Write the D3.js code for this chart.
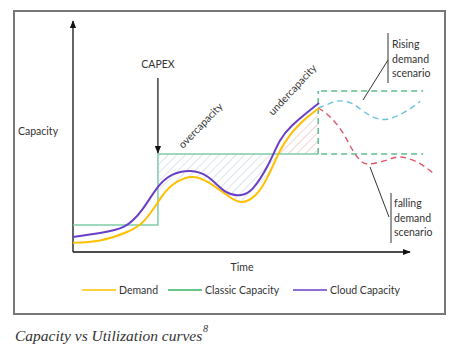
<!DOCTYPE html>
<html>
<head>
<meta charset="utf-8">
<script src="https://cdn.jsdelivr.net/npm/d3@7"></script>
<style>
  body { margin: 0; background: #fff; }
  svg text { font-family: Lato, "Open Sans", sans-serif; fill: #333; }
</style>
</head>
<body>
<svg width="466" height="352"></svg>
<script>
// time (x) and level (y) readings, both in arbitrary chart units
const demandT = [0, 9, 18, 24, 29, 33, 39, 45, 51, 56, 61, 65, 69, 73, 77, 82];
const demandV = [4, 5, 8.7, 14, 23, 29, 32.6, 30.4, 25, 21.7, 25, 33, 44, 52, 57.4, 62.6];
const cloudT = [0, 9, 17, 23, 28, 33, 39, 45, 51, 56, 60, 65, 69, 73, 77, 82];
const cloudV = [6.5, 8.3, 11, 18.3, 27.8, 33.5, 35.2, 32.6, 26.1, 24.8, 27.8, 37.8, 48.5, 55, 59.6, 64.8];
const classicT = [0, 28.3, 81.7];
const classicV = [11.7, 42.6, 42.6];
const futureEnd = 116.7;
const futureLevels = [70, 42.6];
const riseT = [81.7, 86, 89, 93, 97, 102, 107, 112, 115.7];
const riseV = [62.6, 64.8, 65.7, 64.5, 61, 57.8, 58.6, 62, 65.5];
const fallT = [81.7, 85.7, 90, 93.3, 96, 99, 104.7, 109, 114.7, 120];
const fallV = [62.6, 58.7, 51.7, 44, 39.5, 38.3, 40, 41.3, 39.1, 34.3];
const legendNames = ["Demand", "Classic Capacity", "Cloud Capacity"];
const legendColors = ["#ffc000", "#33b560", "#6a3fc8"];

let svg = d3.select("svg");

let x = d3.scaleLinear().domain([0, 112.3]).range([73, 410]);
let y = d3.scaleLinear().domain([0, 100]).range([252, 22]);

const zip = (ts, vs) => ts.map((t, i) => [t, vs[i]]);
let line = d3.line().x(d => x(d[0])).y(d => y(d[1])).curve(d3.curveNatural);

let defs = svg.append("defs");

// arrow heads
defs.append("marker")
  .attr("id", "arrow")
  .attr("viewBox", "0 0 10 10")
  .attr("refX", 9).attr("refY", 5)
  .attr("markerWidth", 8).attr("markerHeight", 8)
  .attr("markerUnits", "userSpaceOnUse")
  .attr("orient", "auto")
  .append("path").attr("d", "M0,1L10,5L0,9Z").attr("fill", "#111");

// hatch patterns
function hatch(id, color) {
  let p = defs.append("pattern")
    .attr("id", id)
    .attr("patternUnits", "userSpaceOnUse")
    .attr("width", 6).attr("height", 6)
    .attr("patternTransform", "rotate(45)");
  p.append("line")
    .attr("x1", 0).attr("y1", 0).attr("x2", 0).attr("y2", 6)
    .attr("stroke", color).attr("stroke-width", 1);
}
hatch("hatch-over", "#b9cdd8");
hatch("hatch-under", "#e3a9ad");

let capLevel = classicV[2];

defs.append("clipPath").attr("id", "clip-over")
  .append("rect")
  .attr("x", x(classicT[1])).attr("y", y(capLevel))
  .attr("width", x(classicT[2]) - x(classicT[1]))
  .attr("height", y(0) - y(capLevel));
defs.append("clipPath").attr("id", "clip-under")
  .append("rect")
  .attr("x", x(classicT[1])).attr("y", y(100))
  .attr("width", x(classicT[2]) - x(classicT[1]))
  .attr("height", y(capLevel) - y(100));

// outer frame
svg.append("rect")
  .attr("x", 14).attr("y", 11)
  .attr("width", 431).attr("height", 303)
  .attr("fill", "none").attr("stroke", "#777").attr("stroke-width", 2);

// gap area between capacity and demand
let gap = d3.area()
  .x(d => x(d[0]))
  .y0(y(capLevel))
  .y1(d => y(d[1]))
  .curve(d3.curveNatural);

svg.append("path")
  .attr("d", gap(zip(demandT, demandV)))
  .attr("fill", "url(#hatch-over)")
  .attr("clip-path", "url(#clip-over)");
svg.append("path")
  .attr("d", gap(zip(demandT, demandV)))
  .attr("fill", "url(#hatch-under)")
  .attr("clip-path", "url(#clip-under)");

// axes
svg.append("line")
  .attr("x1", x(0)).attr("y1", y(0)).attr("x2", x(0)).attr("y2", y(100) - 1)
  .attr("stroke", "#111").attr("stroke-width", 1.3)
  .attr("marker-end", "url(#arrow)");
svg.append("line")
  .attr("x1", x(0)).attr("y1", y(0)).attr("x2", x(112.3)).attr("y2", y(0))
  .attr("stroke", "#111").attr("stroke-width", 1.3)
  .attr("marker-end", "url(#arrow)");

// classic capacity step
svg.append("path")
  .attr("d", d3.line().x(d => x(d[0])).y(d => y(d[1]))([
    [classicT[0], classicV[0]], [classicT[1], classicV[0]],
    [classicT[1], classicV[1]], [classicT[2], classicV[2]]
  ]))
  .attr("fill", "none").attr("stroke", "#7fcca8").attr("stroke-width", 1.5);

// planned capacity (dashed)
let dash = svg.append("g")
  .attr("stroke", "#5dbf8a").attr("stroke-width", 1.5)
  .attr("stroke-dasharray", "6,4").attr("fill", "none");
dash.append("line")
  .attr("x1", x(classicT[2])).attr("x2", x(classicT[2]))
  .attr("y1", y(capLevel)).attr("y2", y(futureLevels[0]));
futureLevels.forEach(function(v) {
  dash.append("line")
    .attr("x1", x(classicT[2]) + 3).attr("x2", x(futureEnd))
    .attr("y1", y(v)).attr("y2", y(v));
});

// scenarios
svg.append("path")
  .attr("d", line(zip(riseT, riseV)))
  .attr("fill", "none").attr("stroke", "#6cc3dc").attr("stroke-width", 1.4)
  .attr("stroke-dasharray", "6,4");
svg.append("path")
  .attr("d", line(zip(fallT, fallV)))
  .attr("fill", "none").attr("stroke", "#e0566a").attr("stroke-width", 1.4)
  .attr("stroke-dasharray", "6,4");

// demand and cloud curves
svg.append("path")
  .attr("d", line(zip(demandT, demandV)))
  .attr("fill", "none").attr("stroke", legendColors[0]).attr("stroke-width", 2);
svg.append("path")
  .attr("d", line(zip(cloudT, cloudV)))
  .attr("fill", "none").attr("stroke", legendColors[2]).attr("stroke-width", 2);

// CAPEX arrow
svg.append("line")
  .attr("x1", x(classicT[1])).attr("x2", x(classicT[1]))
  .attr("y1", 78).attr("y2", y(capLevel) - 1)
  .attr("stroke", "#111").attr("stroke-width", 1.2)
  .attr("marker-end", "url(#arrow)");
svg.append("text")
  .attr("x", x(classicT[1])).attr("y", 68)
  .attr("text-anchor", "middle").attr("font-size", "10.5px")
  .text("CAPEX");

// gap labels
svg.append("text")
  .attr("transform", "translate(183,149) rotate(-46)")
  .attr("font-size", "10.5px")
  .text("overcapacity");
svg.append("text")
  .attr("transform", "translate(273,116) rotate(-47)")
  .attr("font-size", "10.5px")
  .text("undercapacity");

// axis titles
svg.append("text")
  .attr("x", 18).attr("y", 135)
  .attr("font-size", "10.5px")
  .text("Capacity");
svg.append("text")
  .attr("x", 242).attr("y", 271)
  .attr("text-anchor", "middle").attr("font-size", "10.5px")
  .text("Time");

// scenario callouts
function callout(lines, tx, ty0, barX, barY0, barY1, p0, p1) {
  let g = svg.append("g");
  g.append("line")
    .attr("x1", barX).attr("x2", barX).attr("y1", barY0).attr("y2", barY1)
    .attr("stroke", "#333").attr("stroke-width", 1);
  g.append("line")
    .attr("x1", p0[0]).attr("y1", p0[1]).attr("x2", p1[0]).attr("y2", p1[1])
    .attr("stroke", "#333").attr("stroke-width", 1);
  lines.forEach(function(s, i) {
    g.append("text")
      .attr("x", tx).attr("y", ty0 + i * 14.5)
      .attr("font-size", "10.5px")
      .text(s);
  });
}
callout(["Rising", "demand", "scenario"], 392, 48, 388, 33, 83, [388, 60], [363, 100]);
callout(["falling", "demand", "scenario"], 394, 207, 391, 193, 243, [389, 217], [370, 167]);

// legend
let legendX = [82, 168, 293];
legendNames.forEach(function(name, i) {
  let row = svg.append("g").attr("transform", "translate(" + legendX[i] + ",290)");
  row.append("line")
    .attr("x1", 0).attr("x2", 34).attr("y1", 0).attr("y2", 0)
    .attr("stroke", legendColors[i]).attr("stroke-width", 1.6);
  row.append("text")
    .attr("x", 37).attr("y", 4)
    .attr("font-size", "10.5px")
    .text(name);
});

// caption
svg.append("text")
  .attr("x", 15).attr("y", 341)
  .attr("font-style", "italic")
  .attr("font-size", "15.5px")
  .style("font-family", "'Liberation Serif', serif")
  .style("fill", "#333")
  .text("Capacity vs Utilization curves");
svg.append("text")
  .attr("x", 203).attr("y", 332)
  .style("font-family", "'Liberation Serif', serif")
  .attr("font-style", "italic")
  .attr("font-size", "10px")
  .text("8");
</script>
</body>
</html>
